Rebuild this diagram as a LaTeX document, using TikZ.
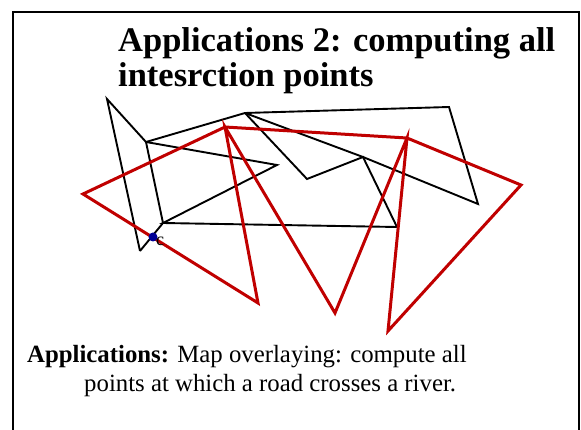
\documentclass[tikz,border=0pt]{standalone}
\usepackage{fontspec}
\setmainfont{Liberation Serif}
\definecolor{riverred}{RGB}{192,0,0}
\definecolor{dotblue}{RGB}{0,0,150}
\begin{document}
\begin{tikzpicture}[x=1pt,y=-1pt,
  frame/.style={line width=2pt,black},
  road/.style={line width=1.9pt,black,line join=miter},
  river/.style={line width=3pt,riverred,line join=miter},
  title/.style={anchor=base west,inner sep=0pt,font=\fontsize{34.5}{40}\selectfont\bfseries},
  body/.style={anchor=base west,inner sep=0pt,font=\fontsize{24.8}{29}\selectfont}]
\useasboundingbox (0,0) rectangle (581,430);
% frame
\draw[frame] (13,430) -- (13,12) -- (579,12) -- (579,430);
% title
\node[title] (t1) at (118,52) {Applications 2: computing all};
\node[title] (t2) at (118,87) {intesrction points};
% road network (black)
\coordinate (P) at (107,99);
\coordinate (A) at (146,142);
\coordinate (Bt) at (140,251);
\coordinate (B) at (163,223);
\coordinate (Rt) at (277,165);
\coordinate (T) at (245,113);
\coordinate (TR) at (449,107);
\coordinate (RR) at (478,204);
\coordinate (M) at (363,157);
\coordinate (V) at (307,179);
\coordinate (BR) at (397,227);
\draw[road] (Bt) -- (P) -- (A) -- (B) -- (Bt);
\draw[road] (A) -- (T) -- (TR) -- (RR) -- (M) -- (T);
\draw[road] (A) -- (Rt) -- (B) -- (BR) -- (M) -- (V) -- (T);
% river (red)
\coordinate (L) at (83,194);
\coordinate (R1) at (225,127);
\coordinate (R2) at (407,138);
\coordinate (RT) at (521,185);
\coordinate (D1) at (258,303);
\coordinate (D2) at (335,313);
\coordinate (D3) at (388,331);
\draw[river] (L) -- (R1) -- (R2) -- (RT) -- (D3) -- (R2) -- (D2) -- (R1) -- (D1) -- cycle;
% intersection point
\fill[dotblue] (153,237) circle (4.5);
\node[inner sep=0pt,font=\fontsize{18}{20}\selectfont] (c) at (160,241) {c};
% caption
\node[body] (b1) at (27,362) {\textbf{Applications:} Map overlaying: compute all};
\node[body] (b2) at (84,391) {points at which a road crosses a river.};
\end{tikzpicture}
\end{document}
